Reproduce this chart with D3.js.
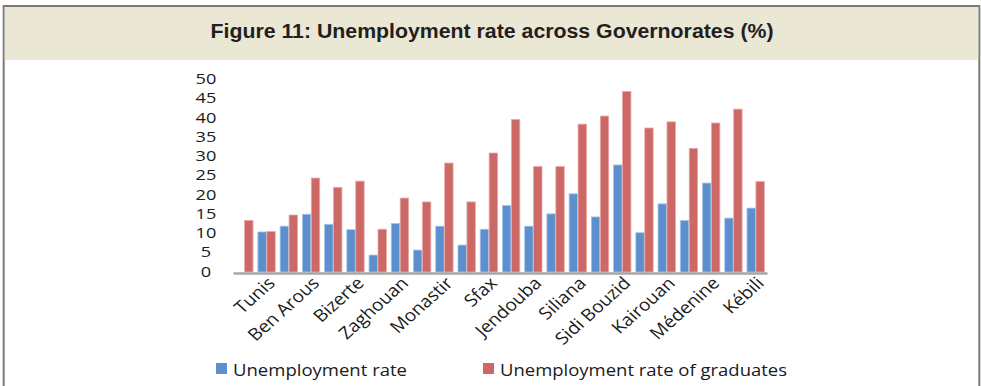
<!DOCTYPE html>
<html>
<head>
<meta charset="utf-8">
<script src="https://cdn.jsdelivr.net/npm/d3@7"></script>
<style>
  body { margin: 0; background: #fff; }
  svg { display: block; }
</style>
</head>
<body>
<svg width="981" height="386"></svg>
<script>
// 24 governorates, only every other one labelled in the source figure
const labels = ["Tunis", "Ben Arous", "Bizerte", "Zaghouan", "Monastir", "Sfax",
                "Jendouba", "Siliana", "Sidi Bouzid", "Kairouan", "Médenine", "Kébili"];
const unemployment = [null, 10.4, 11.9, 15.0, 12.4, 11.0, 4.4, 12.6, 5.7, 11.9, 7.0, 11.1,
                      17.3, 11.9, 15.1, 20.3, 14.3, 27.8, 10.2, 17.7, 13.4, 23.1, 14.0, 16.6];
const graduates = [13.4, 10.5, 14.8, 24.4, 22.0, 23.6, 11.1, 19.2, 18.2, 28.3, 18.2, 30.9,
                   39.6, 27.4, 27.4, 38.4, 40.5, 46.9, 37.4, 39.0, 32.1, 38.7, 42.3, 23.5];
const seriesNames = ["Unemployment rate", "Unemployment rate of graduates"];
const yTicks = [0, 5, 10, 15, 20, 25, 30, 35, 40, 45, 50];

const colors = ["#5b8fcd", "#cc6966"];
const svg = d3.select("svg");

// frame + header
svg.append("rect").attr("x", 3.7).attr("y", 6).attr("width", 975.6).attr("height", 400)
   .attr("fill", "#fff").attr("stroke", "#7a7a7a").attr("stroke-width", 2);
svg.append("rect").attr("x", 4.7).attr("y", 7).attr("width", 973.6).attr("height", 53)
   .attr("fill", "#ebe7d5");
svg.append("text").attr("x", 492).attr("y", 38)
   .attr("text-anchor", "middle")
   .attr("textLength", 563).attr("lengthAdjust", "spacingAndGlyphs")
   .style("font-family", "'Liberation Sans', Arial, sans-serif")
   .style("font-weight", "bold").style("font-size", "20px").attr("fill", "#231f20")
   .text("Figure 11: Unemployment rate across Governorates (%)");

const idx = d3.range(graduates.length);
const x = d3.scaleBand().domain(idx).range([233, 767]).paddingInner(0.22).paddingOuter(0.12);
const x1 = d3.scaleBand().domain([0, 1]).range([0, x.bandwidth()]).paddingInner(0.06);
const y = d3.scaleLinear().domain([0, 50]).range([272, 79.5]);

const font = "'Open Sans', sans-serif";

// y axis labels (no line); source picture is stretched sideways
const yAxis = svg.append("g").attr("transform", "translate(206,0)")
  .call(d3.axisLeft(y).tickValues(yTicks).tickSize(0).tickPadding(0));
yAxis.select(".domain").remove();
yAxis.selectAll("text").attr("text-anchor", "middle").attr("x", 0).attr("dy", "0.3em")
  .attr("transform", "scale(1.3,1)")
  .style("font-family", font).style("font-size", "14px").attr("fill", "#1a1a1a");

// bars
const rows = idx.map(i => [unemployment[i], graduates[i]]);
const groups = svg.append("g").selectAll("g").data(rows).join("g")
  .attr("transform", (d, i) => `translate(${x(i)},0)`);
groups.selectAll("rect").data(d => d.map((v, s) => ({v, s})).filter(e => e.v != null))
  .join("rect")
  .attr("x", e => x1(e.s))
  .attr("width", x1.bandwidth())
  .attr("y", e => y(e.v))
  .attr("height", e => y(0) - y(e.v))
  .attr("fill", e => colors[e.s])
  .attr("stroke", e => e.s === 0 ? "#a9c4e8" : "#e6a9a7").attr("stroke-width", 0.8);

// x axis
const labelIdx = labels.map((l, i) => 2 * i + 1);
const xAxis = svg.append("g").attr("transform", "translate(0,273)")
  .call(d3.axisBottom(x).tickValues(labelIdx).tickSize(0).tickSizeOuter(0)
        .tickFormat(i => labels[(i - 1) / 2]));
xAxis.select(".domain").attr("stroke", "#a6a6a6").attr("stroke-width", 2.5);
xAxis.selectAll("text")
  .attr("x", -2).attr("y", 8).attr("dy", "0.35em")
  .attr("transform", "scale(1.12,1) rotate(-45)")
  .style("text-anchor", "end")
  .style("font-family", font).style("font-size", "17px").attr("fill", "#1a1a1a");

// legend
const legendWidths = [174, 287];
const legend = svg.append("g").selectAll("g").data(seriesNames).join("g")
  .attr("transform", (d, i) => `translate(${i === 0 ? 216 : 483},363)`);
legend.append("rect").attr("width", 11).attr("height", 11).attr("fill", (d, i) => colors[i]);
legend.append("text").attr("x", 17).attr("y", 13)
  .attr("textLength", (d, i) => legendWidths[i]).attr("lengthAdjust", "spacingAndGlyphs")
  .style("font-family", font).style("font-size", "16.5px").attr("fill", "#1a1a1a")
  .text(d => d);
</script>
</body>
</html>
